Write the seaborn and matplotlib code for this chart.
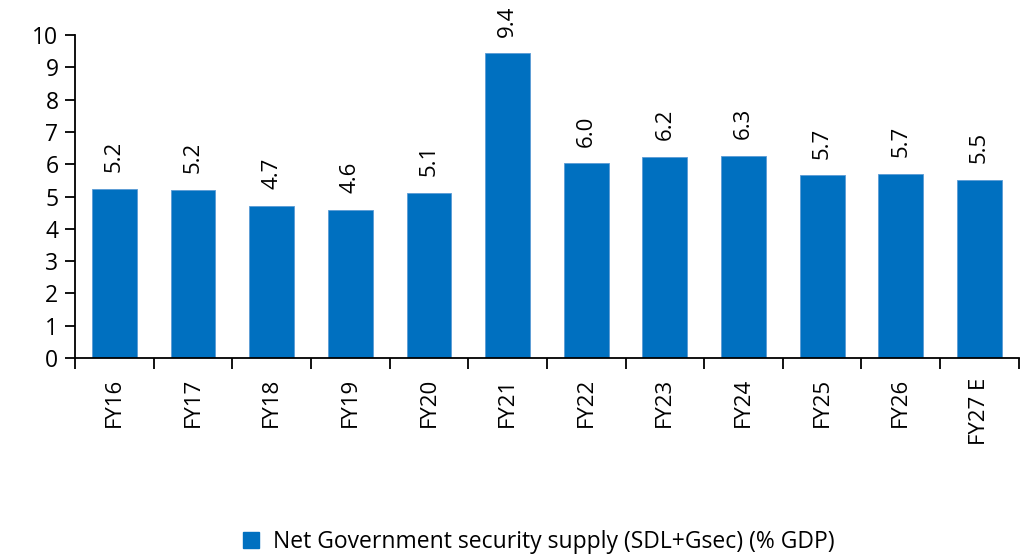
import numpy as np
import pandas as pd
import matplotlib
matplotlib.use("Agg")
import matplotlib.pyplot as plt
import seaborn as sns
from matplotlib.patches import Patch

years = ["FY16", "FY17", "FY18", "FY19", "FY20", "FY21",
         "FY22", "FY23", "FY24", "FY25", "FY26", "FY27 E"]
supply = [5.24, 5.21, 4.72, 4.59, 5.11, 9.43, 6.03, 6.23, 6.26, 5.66, 5.70, 5.51]
series_name = "Net Government security supply (SDL+Gsec) (% GDP)"

bar_color = "#0070C0"

sns.set_theme(style="white")
plt.rcParams["font.family"] = ["Open Sans", "DejaVu Sans"]
plt.rcParams["text.color"] = "black"

df = pd.DataFrame({"Year": years, "Supply": supply})

fig = plt.figure(figsize=(10.28, 5.56), dpi=100)
ax = fig.add_axes([0.073, 0.356, 0.918, 0.581])

sns.barplot(data=df, x="Year", y="Supply", color=bar_color, width=0.57,
            saturation=1, edgecolor="#5a9bd5", linewidth=0.6, ax=ax)

ax.bar_label(ax.containers[0], fmt="%.1f", rotation=90, padding=12,
             fontsize=16, color="black")

ax.set_ylim(0, 10)
ax.set_xlim(-0.5, len(years) - 0.5)
ax.set_yticks(range(0, 11))
ax.set_xlabel("")
ax.set_ylabel("")

for side in ["top", "right"]:
    ax.spines[side].set_visible(False)
for side in ["left", "bottom"]:
    ax.spines[side].set_color("black")
    ax.spines[side].set_linewidth(1.3)

ax.tick_params(axis="y", which="major", direction="out", length=7, width=1.3,
               left=True, labelsize=16.5, colors="black", pad=5)
ax.tick_params(axis="x", which="major", length=0, labelsize=16, pad=14,
               labelrotation=90, colors="black")
ax.set_xticks(np.arange(-0.5, len(years)), minor=True)
ax.tick_params(axis="x", which="minor", direction="out", length=8, width=1.3,
               bottom=True, color="black")

handle = Patch(facecolor=bar_color, edgecolor=bar_color)
fig.legend([handle], [series_name], loc="center", bbox_to_anchor=(0.524, 0.026),
           frameon=False, fontsize=16.5, handlelength=0.7, handleheight=0.7,
           handletextpad=0.6)

fig.savefig("out.png", dpi=100)
